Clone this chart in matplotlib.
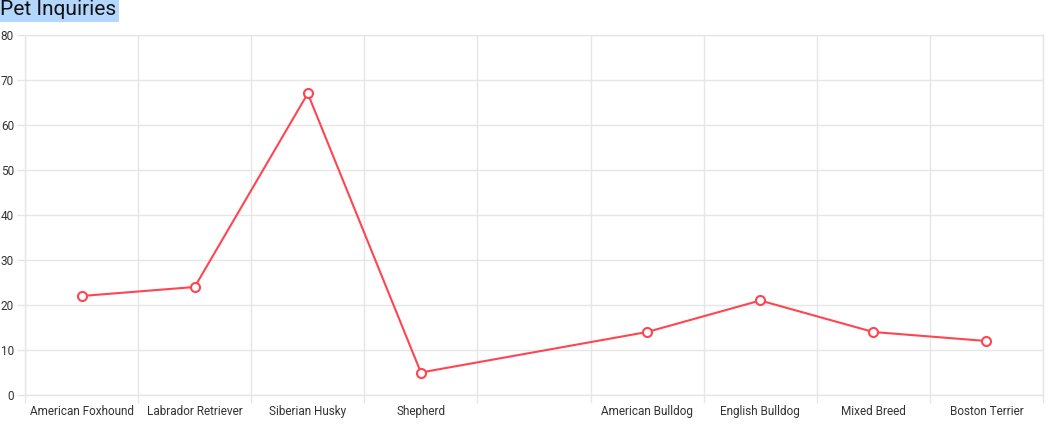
import matplotlib
matplotlib.use('Agg')
import matplotlib.pyplot as plt
import numpy as np

# data
breeds = ['American Foxhound', 'Labrador Retriever', 'Siberian Husky', 'Shepherd', '',
          'American Bulldog', 'English Bulldog', 'Mixed Breed', 'Boston Terrier']
inquiries = [22, 24, 67, 5, None, 14, 21, 14, 12]
y_ticks = [0, 10, 20, 30, 40, 50, 60, 70, 80]

RED = '#ff4552'
GRID = '#e6e6e6'
TEXT = '#333333'

plt.rcParams['font.family'] = ['Roboto', 'DejaVu Sans']

fig = plt.figure(figsize=(10.56, 4.36), dpi=100)
ax = fig.add_axes([25 / 1056, 1 - 395 / 436, (1043 - 25) / 1056, 360 / 436])

n = len(breeds)
xs = np.arange(n)
valid = [i for i, v in enumerate(inquiries) if v is not None]
vx = [xs[i] for i in valid]
vy = [inquiries[i] for i in valid]

ax.plot(vx, vy, color=RED, linewidth=1.5, zorder=3, clip_on=False)
ax.plot(vx, vy, linestyle='none', marker='o', markersize=6.5, markerfacecolor='white',
        markeredgecolor=RED, markeredgewidth=1.5, zorder=4, clip_on=False)

ax.set_xlim(-0.5, n - 0.5)
ax.set_ylim(0, 80)

# category labels at the middle, gridlines at the borders
ax.set_xticks(xs)
ax.set_xticklabels(breeds, fontsize=8.5, color=TEXT)
ax.set_xticks(np.arange(n + 1) - 0.5, minor=True)
ax.tick_params(axis='x', which='major', length=0, pad=7)
ax.tick_params(axis='x', which='minor', length=6, color=GRID, width=1)
ax.grid(axis='x', which='minor', color=GRID, linewidth=1)

ax.set_yticks(y_ticks)
ax.set_yticklabels([str(t) for t in y_ticks], fontsize=8.5, color=TEXT)
ax.tick_params(axis='y', length=6, color=GRID, width=1, pad=2)
ax.grid(axis='y', color=GRID, linewidth=1)
ax.set_axisbelow(True)

for s in ax.spines.values():
    s.set_color(GRID)
    s.set_linewidth(1)

fig.text(0.0, 1.0, 'Pet Inquiries', fontsize=15, color='#111111', ha='left', va='top',
         bbox=dict(facecolor='#b4d7fe', edgecolor='none', pad=2))

fig.savefig('out.png', dpi=100, facecolor='white')
plt.close(fig)
